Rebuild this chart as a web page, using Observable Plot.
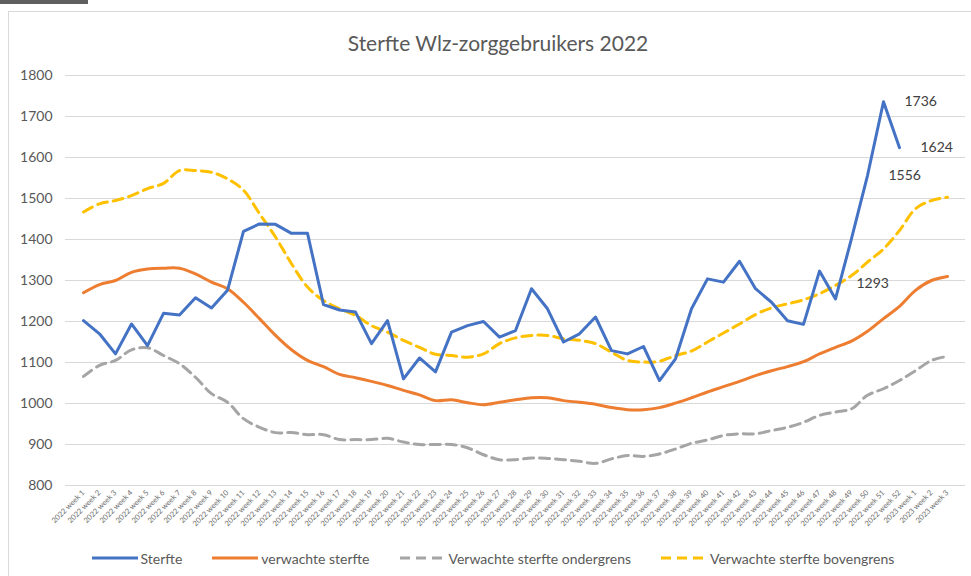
<!DOCTYPE html>
<html>
<head>
<meta charset="utf-8">
<script src="https://cdn.jsdelivr.net/npm/d3@7"></script>
<script src="https://cdn.jsdelivr.net/npm/@observablehq/plot@0.6"></script>
<style>
  html, body { margin: 0; padding: 0; background: #ffffff; }
  body { width: 971px; height: 576px; overflow: hidden; position: relative; font-family: Lato, "Open Sans", sans-serif; }
  #topbar { position: absolute; left: 0; top: 0; width: 88px; height: 4px; background: #5f5f5f; }
  #frame { position: absolute; left: 8px; top: 11px; width: 1000px; height: 600px; border: 1.5px solid #d9d9d9; box-sizing: border-box; pointer-events: none; }
  #title { height: 62px; box-sizing: border-box; padding-top: 30px; padding-left: 25px; text-align: center; font-size: 21px; line-height: 26px; color: #595959; }
  #chart { height: 478px; }
  #legend { height: 36px; display: flex; justify-content: center; align-items: center; gap: 30px; padding-left: 15px; font-size: 14px; color: #595959; }
  .item { display: flex; align-items: center; gap: 3px; }
</style>
</head>
<body>
<div id="topbar"></div>
<div id="frame"></div>
<div id="title">Sterfte Wlz-zorggebruikers 2022</div>
<div id="chart"></div>
<div id="legend"></div>
<script>
const weeks = [
  "2022 week 1","2022 week 2","2022 week 3","2022 week 4","2022 week 5","2022 week 6","2022 week 7","2022 week 8","2022 week 9","2022 week 10",
  "2022 week 11","2022 week 12","2022 week 13","2022 week 14","2022 week 15","2022 week 16","2022 week 17","2022 week 18","2022 week 19","2022 week 20",
  "2022 week 21","2022 week 22","2022 week 23","2022 week 24","2022 week 25","2022 week 26","2022 week 27","2022 week 28","2022 week 29","2022 week 30",
  "2022 week 31","2022 week 32","2022 week 33","2022 week 34","2022 week 35","2022 week 36","2022 week 37","2022 week 38","2022 week 39","2022 week 40",
  "2022 week 41","2022 week 42","2022 week 43","2022 week 44","2022 week 45","2022 week 46","2022 week 47","2022 week 48","2022 week 49","2022 week 50",
  "2022 week 51","2022 week 52","2023 week 1","2023 week 2","2023 week 3"
];

const sterfte = [1202,1170,1121,1194,1141,1220,1216,1258,1233,1276,1420,1438,1437,1415,1415,1241,1228,1223,1146,1202,1060,1111,1077,1174,1190,1200,1162,1178,1280,1231,1150,1170,1211,1129,1121,1139,1056,1109,1231,1304,1296,1347,1280,1247,1202,1193,1323,1255,1402,1556,1736,1624];

const verwacht = [1270,1290,1300,1320,1328,1330,1330,1316,1296,1280,1247,1207,1166,1131,1105,1090,1071,1063,1054,1044,1032,1021,1007,1009,1002,997,1003,1009,1014,1014,1007,1003,998,990,985,985,990,1001,1014,1028,1041,1054,1068,1080,1090,1102,1121,1137,1152,1176,1207,1237,1276,1300,1310];

const ondergrens = [1066,1093,1105,1131,1136,1117,1097,1064,1024,1003,963,942,929,929,924,924,912,912,912,915,906,900,900,900,892,875,863,863,867,866,863,859,854,865,873,871,877,889,903,911,922,926,926,934,942,954,971,979,987,1020,1036,1056,1080,1105,1115];

const bovengrens = [1467,1487,1495,1507,1524,1537,1568,1568,1564,1548,1520,1463,1406,1341,1284,1251,1231,1215,1190,1174,1154,1137,1120,1117,1113,1121,1146,1160,1166,1166,1158,1154,1146,1125,1105,1101,1103,1117,1128,1150,1172,1194,1217,1233,1243,1253,1268,1288,1312,1345,1377,1422,1475,1495,1503];

const yTicks = [800,900,1000,1100,1200,1300,1400,1500,1600,1700,1800];

const annotWeeks = ["2022 week 48","2022 week 50","2022 week 51","2022 week 52"];
const annotValues = [1293,1556,1736,1624];

const seriesNames = ["Sterfte","verwachte sterfte","Verwachte sterfte ondergrens","Verwachte sterfte bovengrens"];
const seriesColors = ["#4472C4","#ED7D31","#A5A5A5","#FFC000"];
const seriesDash = [null,null,"10,6","10,6"];

const toRows = arr => arr.map((v, i) => ({week: weeks[i], v}));
const annots = annotWeeks.map((w, i) => ({week: w, v: annotValues[i]}));

const chart = Plot.plot({
  width: 971,
  height: 478,
  marginLeft: 65,
  marginRight: 6,
  marginTop: 13,
  marginBottom: 55,
  style: {fontFamily: "Lato, 'Open Sans', sans-serif", color: "#595959", background: "transparent"},
  x: {type: "point", domain: weeks, padding: 0.5, label: null},
  y: {domain: [800, 1800], label: null},
  marks: [
    Plot.gridY(yTicks, {stroke: "#d9d9d9", strokeOpacity: 1, strokeWidth: 1}),
    Plot.axisY(yTicks, {tickSize: 0, tickPadding: 13, fontSize: 14, label: null, tickFormat: d => String(d)}),
    Plot.axisX({tickSize: 0, tickRotate: -45, tickPadding: 6, fontSize: 7.5, label: null, fill: "#6a6a6a"}),
    Plot.line(toRows(ondergrens), {x: "week", y: "v", stroke: seriesColors[2], strokeWidth: 3, strokeDasharray: seriesDash[2], curve: "catmull-rom"}),
    Plot.line(toRows(bovengrens), {x: "week", y: "v", stroke: seriesColors[3], strokeWidth: 3, strokeDasharray: seriesDash[3], curve: "catmull-rom"}),
    Plot.line(toRows(verwacht), {x: "week", y: "v", stroke: seriesColors[1], strokeWidth: 3, curve: "catmull-rom"}),
    Plot.line(toRows(sterfte), {x: "week", y: "v", stroke: seriesColors[0], strokeWidth: 3, strokeLinejoin: "round"}),
    Plot.text(annots, {x: "week", y: "v", text: d => String(d.v), dx: 21, textAnchor: "start", fontSize: 14, fill: "#404040"})
  ]
});
document.getElementById("chart").appendChild(chart);

const legend = document.getElementById("legend");
seriesNames.forEach((name, i) => {
  const item = document.createElement("div");
  item.className = "item";
  const dash = seriesDash[i] ? ` stroke-dasharray="${seriesDash[i]}"` : "";
  item.innerHTML = `<svg width="46" height="10"><line x1="0" y1="5" x2="46" y2="5" stroke="${seriesColors[i]}" stroke-width="3"${dash}/></svg><span>${name}</span>`;
  legend.appendChild(item);
});
</script>
</body>
</html>
